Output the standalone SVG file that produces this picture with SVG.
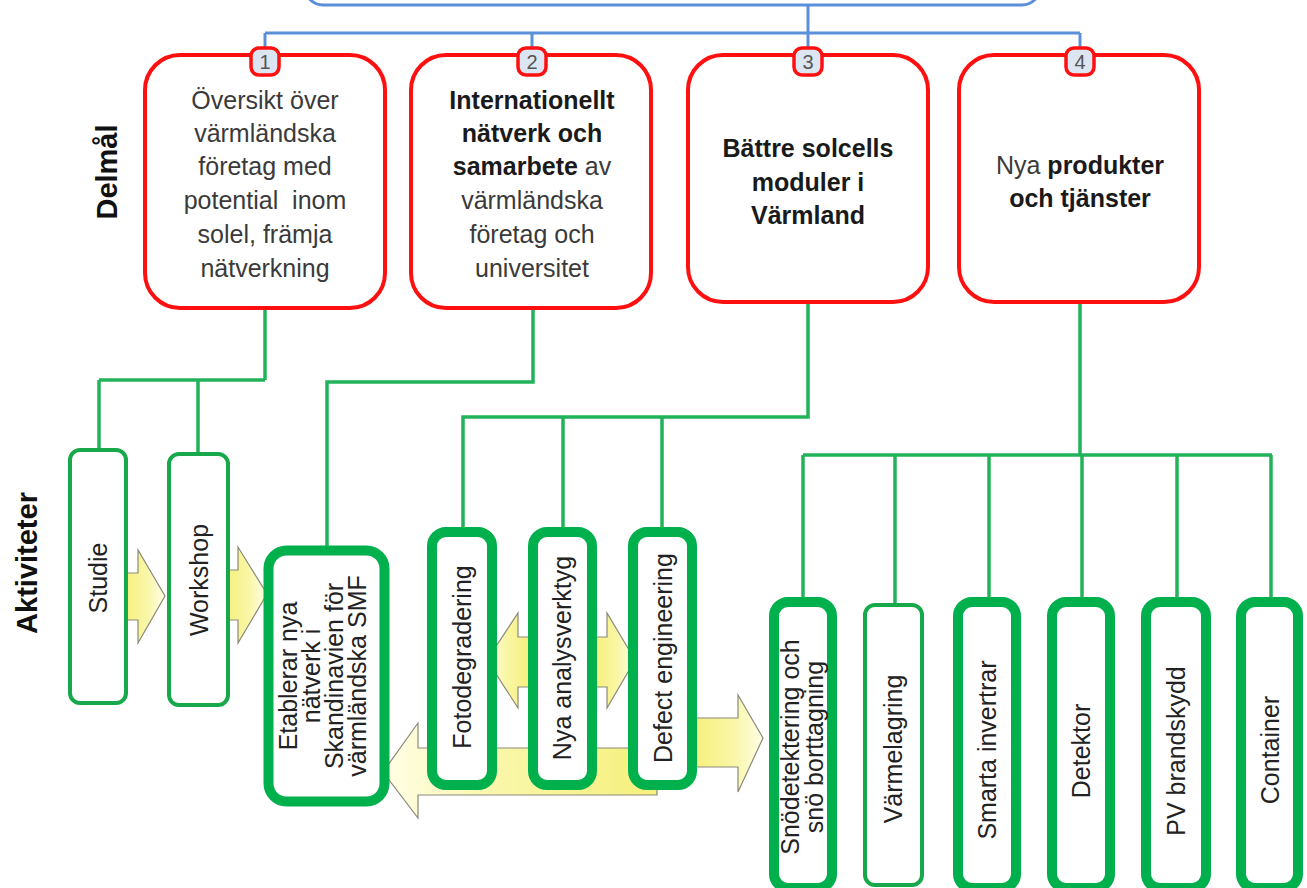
<svg xmlns="http://www.w3.org/2000/svg" width="1307" height="888" viewBox="0 0 1307 888">
<defs>
<linearGradient id="gR" x1="0" y1="0" x2="1" y2="0">
<stop offset="0" stop-color="#f6f07c"/><stop offset="0.55" stop-color="#f9f6a6"/><stop offset="1" stop-color="#fffee6"/>
</linearGradient>
<linearGradient id="gL" x1="1" y1="0" x2="0" y2="0">
<stop offset="0" stop-color="#f6f07c"/><stop offset="0.55" stop-color="#f9f6a6"/><stop offset="1" stop-color="#fffee6"/>
</linearGradient>
<style>
.goal{fill:#fff;stroke:#ff1010;stroke-width:4}
.badge{fill:#dce6f2;stroke:#ff1010;stroke-width:3.5}
.bnum{font-family:"Liberation Sans",Arial,sans-serif;font-size:20px;fill:#555;text-anchor:middle}
.blue{fill:none;stroke:#5b8fd9;stroke-width:3}
.con{fill:none;stroke:#22b35a;stroke-width:3.5}
.thin{fill:#fff;stroke:#16a84a;stroke-width:4}
.thick{fill:#fff;stroke:#00b04c;stroke-width:10}
.arr{stroke:#8a8a7a;stroke-width:1.2}
.t{font-family:"Liberation Sans",Arial,sans-serif;font-size:25px;fill:#3a3a3a;text-anchor:middle}
.b{font-weight:bold;fill:#1a1a1a}
.v{font-family:"Liberation Sans",Arial,sans-serif;font-size:25px;fill:#222;text-anchor:middle}
.lab{font-family:"Liberation Sans",Arial,sans-serif;font-size:29px;font-weight:bold;fill:#111;text-anchor:middle}
</style>
</defs>
<rect width="1307" height="888" fill="#fff"/>

<g id="top-goal">
<rect class="blue" x="305" y="-50" width="735" height="55" rx="18"/>
</g>

<g id="labels">
<text class="lab" transform="translate(107,172) rotate(-90)" y="10">Delmål</text>
<text class="lab" transform="translate(27,563) rotate(-90)" y="10">Aktiviteter</text>
</g>

<g id="connectors">
<path class="blue" d="M808,5 V33 M265,33 H1080 M265,33 V49 M532,33 V49 M808,33 V49 M1080,33 V49"/>
<path class="con" d="M265,308 V380 M99,380 H265 M99,380 V450 M198,380 V454"/>
<path class="con" d="M533,308 V382 H327 V547"/>
<path class="con" d="M808,302 V417 H463 V530 M563,417 V530 M662,417 V530"/>
<path class="con" d="M1080,302 V455 M803,455 H1272 M803,455 V600 M895,455 V605 M989,455 V600 M1082,455 V600 M1177,455 V600 M1271,455 V600"/>
<g id="arrows">
<polygon class="arr" fill="url(#gR)" points="124,573 138,573 138,550 165,596 138,643 138,620 124,620"/>
<polygon class="arr" fill="url(#gR)" points="226,570 238,570 238,547 267,594 238,643 238,620 226,620"/>
<polygon class="arr" fill="url(#gL)" points="657,748 418,748 418,723 383,772 418,818 418,795 657,795"/>
<polygon class="arr" fill="url(#gL)" points="530,637 518,637 518,613 487,660 518,708 518,687 530,687"/>
<polygon class="arr" fill="url(#gR)" points="595,637 607,637 607,613 635,660 607,708 607,687 595,687"/>
<polygon class="arr" fill="url(#gR)" points="695,718 738,718 738,695 763,738 738,792 738,767 695,767"/>
</g>
</g>

<g id="goal1">
<rect class="goal" x="145" y="55" width="240" height="253" rx="35"/>
<rect class="badge" x="251" y="48" width="28" height="27" rx="8"/>
<text class="bnum" x="265" y="69">1</text>
<text class="t" x="265"><tspan x="265" y="109">Översikt över</tspan><tspan x="265" y="142">värmländska</tspan><tspan x="265" y="175">företag med</tspan><tspan x="265" y="209">potential&#160; inom</tspan><tspan x="265" y="243">solel, främja</tspan><tspan x="265" y="277">nätverkning</tspan></text>
</g>

<g id="goal2">
<rect class="goal" x="411" y="55" width="240" height="253" rx="35"/>
<rect class="badge" x="518" y="48" width="28" height="27" rx="8"/>
<text class="bnum" x="532" y="69">2</text>
<text class="t"><tspan x="532" y="109" class="b">Internationellt</tspan><tspan x="532" y="142" class="b">nätverk och</tspan><tspan x="532" y="175"><tspan class="b">samarbete</tspan> av</tspan><tspan x="532" y="209">värmländska</tspan><tspan x="532" y="243">företag och</tspan><tspan x="532" y="277">universitet</tspan></text>
</g>

<g id="goal3">
<rect class="goal" x="688" y="55" width="240" height="247" rx="35"/>
<rect class="badge" x="794" y="48" width="28" height="27" rx="8"/>
<text class="bnum" x="808" y="69">3</text>
<text class="t b"><tspan x="808" y="157">Bättre solcells</tspan><tspan x="808" y="191">moduler i</tspan><tspan x="808" y="224">Värmland</tspan></text>
</g>

<g id="goal4">
<rect class="goal" x="959" y="55" width="240" height="247" rx="35"/>
<rect class="badge" x="1066" y="48" width="28" height="27" rx="8"/>
<text class="bnum" x="1080" y="69">4</text>
<text class="t"><tspan x="1080" y="174">Nya <tspan class="b">produkter</tspan></tspan><tspan x="1080" y="207" class="b">och tjänster</tspan></text>
</g>

<g id="studie">
<rect class="thin" x="70" y="450" width="56" height="253" rx="10"/>
<text class="v" transform="translate(98,578) rotate(-90)" y="9">Studie</text>
</g>
<g id="workshop">
<rect class="thin" x="169" y="454" width="59" height="251" rx="10"/>
<text class="v" transform="translate(199,580) rotate(-90)" y="9">Workshop</text>
</g>
<g id="etablerar">
<rect class="thick" x="268.5" y="550.5" width="116" height="251" rx="18" stroke-width="11"/>
<text class="v" font-size="22" transform="translate(324,676) rotate(-90)"><tspan x="0" y="-27">Etablerar nya</tspan><tspan x="0" y="-4">nätverk i</tspan><tspan x="0" y="19">Skandinavien för</tspan><tspan x="0" y="42">värmländska SMF</tspan></text>
</g>
<g id="fotodegradering">
<rect class="thick" x="432" y="532" width="60" height="253" rx="14"/>
<text class="v" transform="translate(462,657) rotate(-90)" y="9">Fotodegradering</text>
</g>
<g id="nya-analysverktyg">
<rect class="thick" x="533" y="532" width="59" height="253" rx="14"/>
<text class="v" font-size="23" transform="translate(563,658) rotate(-90)" y="8">Nya analysverktyg</text>
</g>
<g id="defect-engineering">
<rect class="thick" x="633" y="532" width="59" height="253" rx="14"/>
<text class="v" transform="translate(663,658) rotate(-90)" y="9">Defect engineering</text>
</g>
<g id="snodetektering">
<rect class="thick" x="774" y="602" width="58" height="286" rx="14"/>
<text class="v" transform="translate(802,747) rotate(-90)"><tspan x="0" y="-3">Snödetektering och</tspan><tspan x="0" y="21">snö borttagning</tspan></text>
</g>
<g id="varmelagring">
<rect class="thin" x="865" y="605" width="57" height="280" rx="10"/>
<text class="v" transform="translate(893,749) rotate(-90)" y="9">Värmelagring</text>
</g>
<g id="smarta-invertrar">
<rect class="thick" x="958" y="602" width="58" height="286" rx="14"/>
<text class="v" transform="translate(987,750) rotate(-90)" y="9">Smarta invertrar</text>
</g>
<g id="detektor">
<rect class="thick" x="1052" y="602" width="58" height="286" rx="14"/>
<text class="v" transform="translate(1081,751) rotate(-90)" y="9">Detektor</text>
</g>
<g id="pv-brandskydd">
<rect class="thick" x="1146" y="602" width="60" height="286" rx="14"/>
<text class="v" transform="translate(1176,751) rotate(-90)" y="9">PV brandskydd</text>
</g>
<g id="container">
<rect class="thick" x="1241" y="602" width="57" height="286" rx="14"/>
<text class="v" transform="translate(1270,750) rotate(-90)" y="9">Container</text>
</g>
</svg>
